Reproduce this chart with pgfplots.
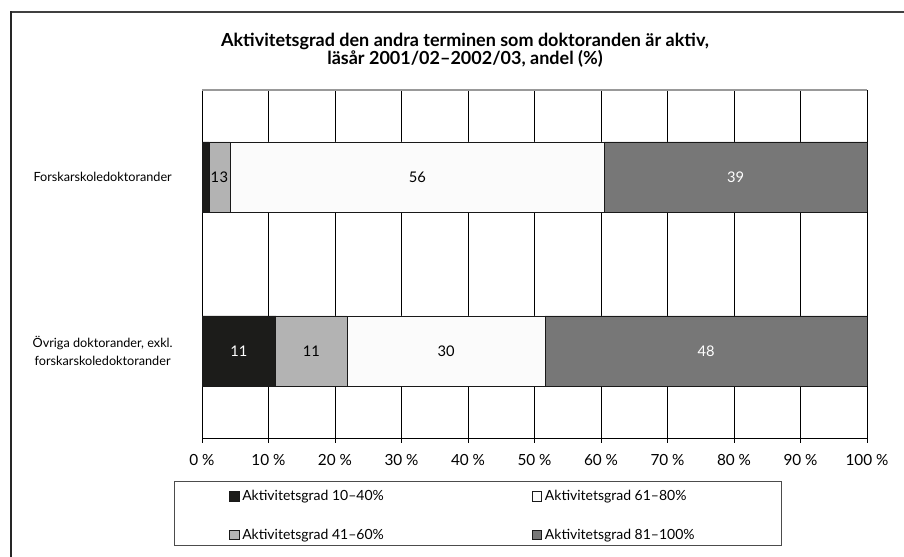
\documentclass[border=0pt]{standalone}
\usepackage{fontspec}
\setmainfont{Lato}
\usepackage{pgfplots}
\pgfplotsset{compat=1.18}
\definecolor{cblack}{HTML}{1C1C1A}
\definecolor{cgray}{HTML}{B3B3B3}
\definecolor{cwhite}{HTML}{FBFBFB}
\definecolor{cdark}{HTML}{777777}
\newcommand{\lblfont}{\fontsize{11}{12}\selectfont}
\newcommand{\sq}[1]{\draw[fill=#1,draw=black!90,line width=0.6pt] (0pt,-3.6pt) rectangle (7.2pt,3.6pt);}
\pgfplotstableread{
x y lbl
1.95 1 1
3.3 1 3
32.4 1 56
36.7 0 30
16.45 0 11
}\darklabels
\pgfplotstableread{
x y lbl
80.25 1 39
5.55 0 11
75.8 0 48
}\lightlabels
\pgfplotsset{frame/.style={at={(151.5pt,89.25pt)}, anchor=south west,
  width=498.75pt, height=261pt, scale only axis,
  xmin=0, xmax=100, ymin=-0.5, ymax=1.5}}
\begin{document}
\begin{tikzpicture}
\path[use as bounding box] (0,0) rectangle (678pt,417.75pt);
\draw[black!75,line width=1.5pt] (8.25pt,408.75pt) -- (678pt,408.75pt);
\draw[black!85,line width=0.8pt] (8.25pt,0pt) -- (8.25pt,409.5pt);
\node[align=center,font=\bfseries\fontsize{13.5}{13.5}\selectfont] at (348.75pt,380pt)
  {Aktivitetsgrad den andra terminen som doktoranden är aktiv,\\ läsår 2001/02--2002/03, andel (\%)};
\draw[black!70,line width=0.6pt] (130.5pt,9pt) rectangle (585.75pt,57pt);
\begin{axis}[frame,
  xbar stacked, bar width=52.5pt,
  axis lines*=left,
  axis line style={black, line width=0.6pt},
  xtick={0,10,...,100},
  xticklabels={0 \%,10 \%,20 \%,30 \%,40 \%,50 \%,60 \%,70 \%,80 \%,90 \%,100 \%},
  xticklabel style={font=\fontsize{11.5}{12}\selectfont, yshift=-5.5pt},
  tick align=outside, major tick length=3.5pt,
  xtick style={black, line width=0.5pt},
  ytick={0,1},
  yticklabels={{Övriga doktorander, exkl.\\forskarskoledoktorander},Forskarskoledoktorander},
  yticklabel style={align=center, anchor=center, xshift=-71pt, font=\fontsize{9.5}{13.5}\selectfont},
  ytick style={draw=none},
  xmajorgrids, grid style={black, line width=0.5pt},
  legend columns=2, transpose legend,
  legend style={at={(axis description cs:0.0405,-0.223)}, anchor=west, draw=none, fill=none, inner sep=0pt,
    font=\fontsize{10.5}{12}\selectfont, row sep=15.75pt, cells={anchor=west},
    /tikz/every even column/.append style={column sep=109pt}},
]
\addplot[fill=cblack, draw=black!90, line width=0.6pt, legend image code/.code={\sq{cblack}}] coordinates {(11.1,0) (1.1,1)};
\addplot[fill=cgray, draw=black!90, line width=0.6pt, legend image code/.code={\sq{cgray}}] coordinates {(10.7,0) (3.1,1)};
\addplot[fill=cwhite, draw=black!90, line width=0.6pt, legend image code/.code={\sq{cwhite}}] coordinates {(29.8,0) (56.3,1)};
\addplot[fill=cdark, draw=black!90, line width=0.6pt, legend image code/.code={\sq{cdark}}] coordinates {(48.4,0) (39.5,1)};
\legend{Aktivitetsgrad 10--40\%, Aktivitetsgrad 41--60\%, Aktivitetsgrad 61--80\%, Aktivitetsgrad 81--100\%}
\draw[black!40, line width=0.8pt] (axis description cs:0,1) -- (axis description cs:1,1);
\end{axis}
\begin{axis}[frame, hide axis]
\addplot[only marks, mark=*, mark size=0pt, mark options={draw=none,fill=none},
  nodes near coords, point meta=explicit symbolic,
  every node near coord/.style={anchor=center, font=\lblfont, text=black}]
  table[x=x, y=y, meta=lbl] {\darklabels};
\addplot[only marks, mark=*, mark size=0pt, mark options={draw=none,fill=none},
  nodes near coords, point meta=explicit symbolic,
  every node near coord/.style={anchor=center, font=\lblfont, text=white}]
  table[x=x, y=y, meta=lbl] {\lightlabels};
\end{axis}
\end{tikzpicture}
\end{document}
